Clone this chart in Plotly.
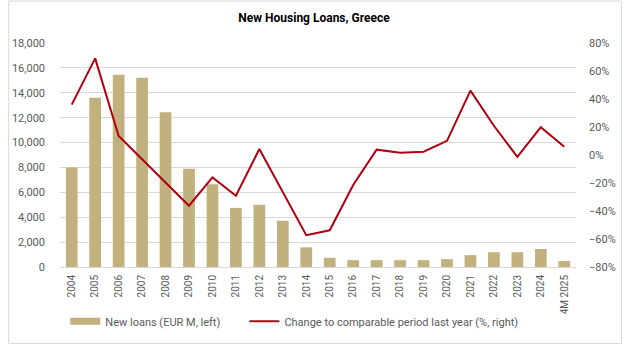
import plotly.graph_objects as go

# Years (last entry covers the first four months of 2025)
years = ["2004", "2005", "2006", "2007", "2008", "2009", "2010", "2011", "2012",
         "2013", "2014", "2015", "2016", "2017", "2018", "2019", "2020", "2021",
         "2022", "2023", "2024", "4M 2025"]

# New housing loans, EUR million (left axis)
new_loans = [8000, 13600, 15450, 15200, 12430, 7900, 6650, 4750, 5000,
             3720, 1580, 740, 550, 550, 550, 550, 630, 950,
             1190, 1190, 1450, 475]

# Change to comparable period last year, % (right axis)
yoy_change = [36, 69, 13.6, -3, -19.8, -36.2, -16, -29.1, 4.3,
              -26.4, -57.3, -53.8, -21.4, 3.8, 1.6, 2.3, 10.1, 46,
              20.9, -1.4, 19.9, 5.9]

BAR_COLOR = "#C1B17E"
LINE_COLOR = "#B0000F"
GRID = "#D9D9D9"
TXT = "#595959"
FONT = "Roboto"

fig = go.Figure()
fig.add_trace(go.Bar(
    x=years, y=new_loans, name="New loans (EUR M, left)", showlegend=False,
    marker=dict(color=BAR_COLOR, line=dict(width=0)), width=0.5,
))
# legend entry for the bars, drawn as a wide flat swatch
fig.add_trace(go.Scatter(
    x=[None], y=[None], name="New loans (EUR M, left)       ", mode="lines",
    line=dict(color=BAR_COLOR, width=7),
))
fig.add_trace(go.Scatter(
    x=years, y=yoy_change, name="Change to comparable period last year (%, right)",
    mode="lines", line=dict(color=LINE_COLOR, width=2), yaxis="y2",
))

W, H = 628, 348
ml, mr, mt, mb = 53, 47, 43, 78
pw, ph = W - ml - mr, H - mt - mb

fig.update_layout(
    width=W, height=H,
    margin=dict(l=ml, r=mr, t=mt, b=mb),
    paper_bgcolor="white", plot_bgcolor="white",
    font=dict(family=FONT, size=11, color=TXT),
    title=dict(text="<b>New Housing Loans, Greece</b>", x=0.5, xanchor="center",
               y=1 - 18 / H, yanchor="middle", yref="container",
               font=dict(family=FONT, size=12, color="#000000")),
    showlegend=True,
    legend=dict(orientation="h", x=0.455, xanchor="center", y=-(325 - 270) / ph,
                yanchor="middle", font=dict(family=FONT, size=11, color=TXT),
                bgcolor="rgba(0,0,0,0)", itemwidth=30, tracegroupgap=0),
    bargap=0.5,
    xaxis=dict(type="category", tickangle=-90, showgrid=False,
               showline=False, ticks="", ticklabelstandoff=5,
               tickfont=dict(family=FONT, size=10, color=TXT)),
    yaxis=dict(range=[0, 18000], dtick=2000, tickformat=",", showgrid=True,
               gridcolor=GRID, gridwidth=1, zeroline=True, zerolinecolor=GRID,
               zerolinewidth=1, showline=False, ticklabelstandoff=14,
               tickfont=dict(family=FONT, size=11, color=TXT)),
    yaxis2=dict(range=[-80, 80], dtick=20, ticksuffix="%", overlaying="y",
                side="right", showgrid=False, zeroline=False, showline=False,
                ticklabelstandoff=12,
                tickfont=dict(family=FONT, size=11, color=TXT)),
    shapes=[dict(type="rect", xref="paper", yref="paper",
                 x0=-(ml - 0.5) / pw, x1=1 + (mr - 0.5) / pw,
                 y0=-(mb - 0.5) / ph, y1=1 + (mt - 0.5) / ph,
                 line=dict(color="#D9D9D9", width=1), layer="below")],
)

fig.write_html("out.html")
